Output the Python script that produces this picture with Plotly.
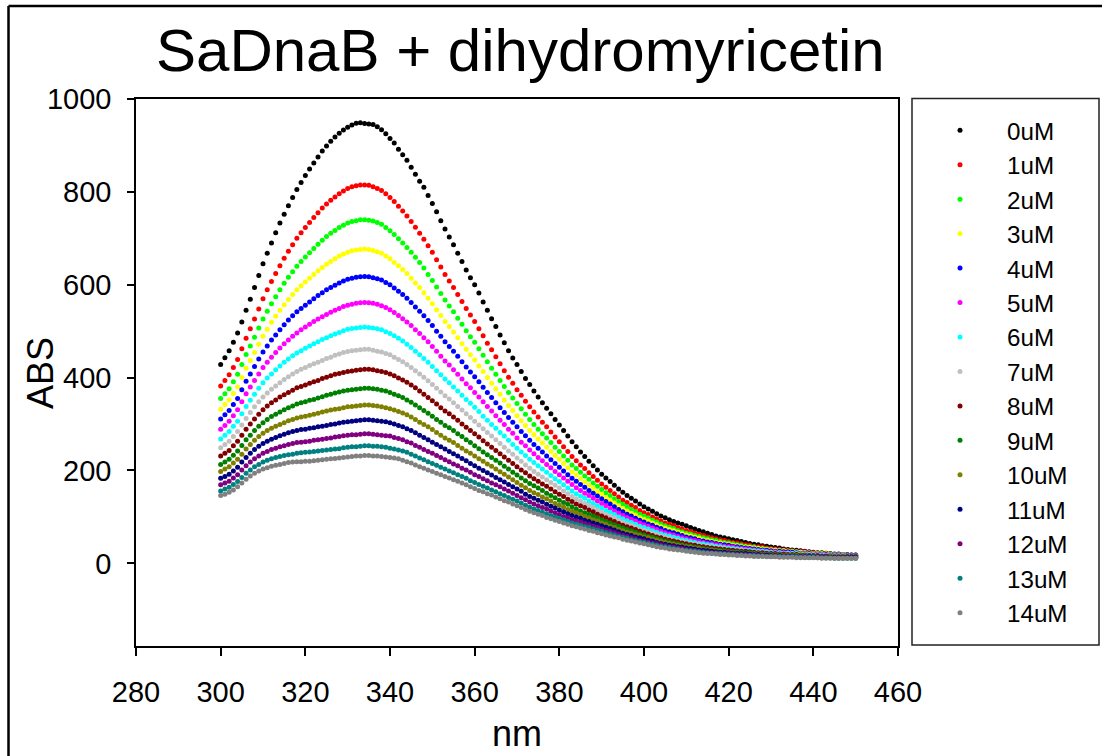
import plotly.graph_objects as go

wavelength_nm = list(range(300, 451))
conc_labels = ["0uM", "1uM", "2uM", "3uM", "4uM", "5uM", "6uM", "7uM",
               "8uM", "9uM", "10uM", "11uM", "12uM", "13uM", "14uM"]
colors = ["#000000", "#FF0000", "#00FF00", "#FFFF00", "#0000FF", "#FF00FF",
          "#00FFFF", "#C0C0C0", "#800000", "#008000", "#808000", "#000080",
          "#800080", "#008080", "#808080"]

abs_0uM = [428, 443, 458, 476, 496, 520, 545, 569, 594, 620,
           645, 668, 690, 712, 733, 752, 770, 788, 805, 820,
           835, 849, 862, 875, 888, 899, 909, 918, 926, 933,
           939, 944, 948, 949, 947, 946, 945, 940, 934, 925,
           915, 905, 892, 880, 868, 853, 838, 823, 810, 792,
           775, 757, 738, 720, 703, 686, 668, 650, 632, 615,
           600, 582, 563, 545, 527, 510, 492, 475, 458, 442,
           428, 413, 398, 385, 371, 358, 346, 334, 322, 310,
           298, 286, 274, 262, 251, 240, 230, 220, 210, 201,
           192, 184, 176, 168, 160, 153, 146, 140, 134, 128,
           122, 117, 112, 107, 102, 98, 94, 90, 87, 84,
           81, 77, 74, 71, 68, 65, 62, 59, 57, 55,
           53, 51, 49, 47, 45, 43, 41, 40, 38, 37,
           35, 34, 33, 31, 30, 29, 28, 27, 26, 25,
           24, 23, 23, 22, 21, 20, 20, 19, 19, 18,
           18]
abs_1uM = [382, 394, 406, 422, 439, 462, 485, 505, 526, 548,
           570, 589, 607, 624, 641, 657, 672, 686, 700, 712,
           723, 734, 745, 755, 765, 774, 782, 789, 796, 802,
           807, 811, 813, 815, 815, 814, 811, 807, 803, 796,
           788, 779, 769, 759, 748, 736, 724, 711, 698, 684,
           670, 654, 638, 622, 608, 594, 579, 564, 549, 535,
           521, 505, 490, 474, 460, 445, 430, 415, 401, 388,
           374, 362, 349, 337, 326, 315, 304, 294, 283, 272,
           262, 251, 241, 230, 221, 212, 204, 195, 187, 179,
           171, 164, 157, 150, 143, 136, 131, 125, 120, 114,
           109, 105, 100, 96, 91, 87, 84, 81, 77, 74,
           71, 68, 65, 62, 60, 57, 55, 53, 51, 49,
           47, 45, 44, 42, 40, 39, 37, 36, 35, 33,
           32, 31, 30, 29, 28, 27, 26, 25, 25, 24,
           23, 22, 21, 21, 20, 19, 19, 18, 18, 18,
           18]
abs_2uM = [355, 365, 376, 391, 407, 428, 450, 468, 487, 507,
           526, 543, 559, 574, 589, 603, 616, 628, 640, 650,
           660, 669, 678, 687, 696, 704, 711, 717, 723, 728,
           733, 736, 738, 740, 740, 739, 737, 734, 730, 723,
           716, 708, 699, 690, 680, 670, 659, 648, 636, 622,
           609, 595, 581, 567, 554, 542, 528, 515, 501, 488,
           476, 462, 448, 434, 420, 407, 394, 381, 368, 356,
           344, 333, 321, 310, 299, 289, 279, 270, 260, 250,
           241, 231, 222, 212, 204, 196, 188, 181, 173, 166,
           159, 152, 146, 139, 133, 127, 122, 116, 111, 106,
           102, 98, 93, 89, 85, 81, 78, 75, 71, 68,
           65, 63, 60, 58, 55, 53, 51, 49, 47, 45,
           44, 42, 40, 39, 37, 36, 35, 33, 32, 31,
           30, 29, 28, 27, 26, 26, 25, 24, 23, 23,
           22, 21, 21, 20, 20, 19, 19, 18, 18, 17,
           17]
abs_3uM = [332, 342, 352, 366, 380, 400, 420, 437, 454, 472,
           489, 504, 519, 532, 545, 557, 568, 579, 589, 598,
           606, 614, 622, 630, 637, 644, 650, 656, 662, 666,
           670, 673, 675, 676, 677, 676, 674, 671, 668, 662,
           656, 648, 641, 633, 624, 614, 604, 594, 583, 571,
           559, 546, 534, 521, 510, 498, 486, 473, 461, 449,
           438, 425, 413, 400, 388, 376, 364, 352, 340, 329,
           318, 307, 297, 286, 277, 268, 259, 250, 241, 232,
           224, 215, 206, 197, 190, 182, 175, 168, 161, 154,
           148, 142, 136, 130, 124, 118, 113, 108, 104, 99,
           95, 91, 87, 83, 79, 76, 73, 70, 67, 64,
           61, 59, 56, 54, 51, 49, 47, 45, 44, 42,
           41, 39, 38, 36, 35, 34, 33, 32, 31, 30,
           29, 28, 27, 27, 26, 25, 24, 24, 23, 22,
           21, 21, 20, 20, 19, 18, 18, 18, 17, 17,
           17]
abs_4uM = [311, 320, 329, 342, 355, 374, 392, 408, 424, 440,
           455, 468, 481, 492, 503, 514, 524, 533, 542, 549,
           556, 563, 570, 577, 583, 589, 594, 599, 604, 608,
           612, 614, 616, 617, 618, 617, 615, 613, 610, 605,
           600, 593, 586, 579, 571, 562, 552, 543, 533, 523,
           512, 500, 489, 477, 467, 457, 446, 434, 423, 412,
           402, 391, 379, 368, 357, 346, 335, 325, 314, 304,
           294, 284, 275, 265, 256, 248, 240, 231, 223, 215,
           207, 199, 191, 183, 177, 170, 164, 157, 151, 145,
           139, 133, 128, 122, 116, 111, 106, 102, 97, 93,
           89, 85, 82, 78, 75, 71, 68, 66, 63, 60,
           57, 55, 53, 50, 48, 46, 45, 43, 41, 40,
           39, 37, 36, 34, 33, 32, 31, 30, 29, 28,
           27, 26, 26, 25, 25, 24, 23, 22, 22, 21,
           20, 20, 19, 19, 18, 18, 18, 17, 17, 17,
           17]
abs_5uM = [289, 297, 306, 318, 331, 348, 365, 380, 394, 408,
           422, 433, 444, 454, 464, 473, 481, 489, 496, 503,
           509, 515, 521, 526, 531, 536, 541, 545, 549, 553,
           556, 558, 560, 561, 562, 561, 560, 558, 555, 551,
           546, 540, 534, 527, 520, 512, 503, 495, 486, 477,
           467, 457, 446, 436, 427, 417, 407, 397, 387, 378,
           368, 358, 348, 338, 328, 318, 308, 299, 289, 280,
           270, 261, 253, 244, 236, 228, 221, 213, 206, 198,
           191, 184, 177, 170, 163, 157, 151, 146, 140, 134,
           129, 124, 118, 113, 108, 103, 99, 95, 91, 87,
           83, 80, 76, 73, 69, 66, 63, 61, 58, 55,
           53, 51, 49, 47, 45, 43, 42, 40, 39, 37,
           36, 35, 33, 32, 31, 30, 29, 28, 27, 26,
           25, 25, 24, 23, 23, 22, 22, 21, 21, 20,
           20, 19, 19, 18, 18, 17, 17, 17, 16, 16,
           16]
abs_6uM = [268, 276, 284, 295, 306, 322, 338, 351, 364, 377,
           389, 399, 408, 417, 425, 433, 440, 447, 453, 458,
           463, 468, 473, 477, 482, 486, 490, 494, 497, 501,
           504, 506, 507, 508, 509, 508, 507, 505, 503, 499,
           495, 490, 485, 479, 472, 465, 457, 449, 441, 433,
           424, 415, 406, 397, 389, 380, 371, 362, 353, 345,
           336, 327, 317, 308, 299, 291, 282, 274, 265, 256,
           248, 240, 232, 224, 217, 210, 203, 196, 189, 182,
           176, 169, 162, 156, 150, 145, 140, 134, 129, 124,
           119, 114, 110, 105, 100, 96, 92, 88, 84, 80,
           77, 74, 70, 67, 64, 61, 59, 56, 54, 51,
           49, 47, 45, 43, 42, 40, 39, 37, 36, 34,
           33, 32, 31, 30, 29, 28, 27, 26, 26, 25,
           24, 23, 23, 22, 22, 21, 21, 20, 20, 19,
           19, 18, 18, 17, 17, 16, 16, 16, 16, 16,
           16]
abs_7uM = [249, 256, 263, 273, 284, 298, 312, 325, 337, 348,
           358, 367, 375, 382, 389, 396, 402, 408, 413, 418,
           422, 426, 430, 433, 437, 441, 444, 448, 451, 454,
           456, 458, 459, 460, 461, 461, 459, 457, 455, 452,
           449, 444, 439, 434, 428, 422, 415, 408, 401, 393,
           385, 377, 369, 361, 354, 346, 338, 330, 322, 314,
           306, 298, 290, 282, 274, 266, 258, 250, 242, 235,
           227, 220, 212, 205, 198, 192, 186, 180, 174, 168,
           162, 156, 150, 144, 139, 134, 129, 125, 120, 115,
           110, 106, 102, 98, 93, 89, 85, 82, 78, 74,
           71, 68, 65, 62, 59, 56, 54, 51, 49, 47,
           45, 43, 41, 40, 38, 37, 36, 34, 33, 32,
           31, 30, 29, 28, 27, 26, 25, 24, 23, 23,
           22, 22, 21, 21, 20, 20, 19, 19, 19, 18,
           18, 18, 17, 17, 16, 16, 16, 16, 15, 15,
           15]
abs_8uM = [231, 237, 243, 253, 263, 276, 289, 300, 311, 321,
           331, 339, 346, 352, 358, 363, 368, 373, 378, 381,
           384, 388, 391, 394, 398, 401, 404, 407, 409, 411,
           413, 414, 416, 417, 418, 418, 417, 415, 413, 411,
           408, 404, 399, 395, 390, 384, 378, 371, 364, 357,
           350, 343, 335, 328, 322, 315, 308, 300, 293, 286,
           279, 272, 264, 257, 250, 243, 236, 229, 222, 215,
           208, 201, 195, 188, 182, 177, 171, 166, 160, 154,
           149, 144, 138, 133, 128, 124, 120, 115, 111, 106,
           102, 98, 94, 90, 86, 82, 79, 76, 73, 69,
           66, 63, 60, 57, 55, 52, 50, 48, 46, 44,
           42, 40, 39, 37, 36, 34, 33, 32, 31, 30,
           29, 28, 27, 26, 26, 25, 24, 23, 23, 22,
           21, 21, 20, 20, 19, 19, 19, 18, 18, 17,
           17, 17, 16, 16, 16, 15, 15, 15, 15, 15,
           15]
abs_9uM = [213, 218, 224, 233, 242, 254, 266, 276, 286, 295,
           303, 310, 316, 321, 326, 331, 335, 339, 343, 346,
           348, 351, 353, 356, 359, 362, 364, 367, 369, 371,
           373, 374, 375, 376, 377, 377, 376, 375, 373, 371,
           368, 364, 361, 357, 352, 347, 341, 335, 329, 323,
           317, 310, 304, 297, 292, 286, 279, 273, 266, 260,
           253, 247, 240, 234, 228, 222, 216, 209, 203, 196,
           190, 184, 178, 172, 167, 162, 157, 151, 146, 141,
           136, 131, 127, 122, 117, 113, 109, 106, 102, 98,
           94, 90, 87, 83, 80, 76, 73, 70, 67, 64,
           61, 58, 56, 53, 51, 48, 46, 44, 42, 40,
           38, 37, 35, 34, 32, 31, 30, 29, 28, 27,
           26, 25, 25, 24, 23, 23, 22, 21, 20, 20,
           19, 19, 19, 18, 18, 18, 17, 17, 17, 16,
           16, 16, 15, 15, 15, 14, 14, 14, 14, 14,
           14]
abs_10uM = [198, 203, 208, 216, 224, 235, 246, 256, 265, 273,
            280, 286, 291, 295, 299, 303, 307, 310, 313, 315,
            317, 319, 321, 323, 326, 328, 330, 332, 333, 335,
            337, 338, 339, 340, 341, 341, 340, 339, 337, 335,
            333, 330, 327, 324, 320, 315, 310, 304, 299, 294,
            288, 282, 276, 270, 265, 260, 254, 248, 242, 237,
            231, 225, 220, 214, 209, 203, 197, 192, 186, 180,
            174, 168, 163, 157, 152, 148, 143, 139, 134, 129,
            125, 121, 116, 112, 109, 105, 101, 98, 94, 91,
            87, 84, 80, 77, 73, 70, 67, 65, 62, 60,
            57, 55, 52, 50, 47, 45, 43, 41, 39, 38,
            36, 35, 33, 32, 30, 29, 28, 27, 26, 25,
            24, 23, 23, 22, 22, 21, 20, 20, 19, 19,
            18, 18, 18, 17, 17, 17, 16, 16, 16, 15,
            15, 15, 15, 14, 14, 14, 14, 14, 13, 13,
            13]
abs_11uM = [183, 187, 192, 199, 207, 218, 228, 237, 245, 252,
            258, 263, 267, 271, 275, 278, 281, 284, 286, 288,
            289, 291, 292, 294, 295, 297, 299, 300, 302, 304,
            305, 306, 307, 308, 309, 309, 308, 307, 306, 305,
            303, 300, 297, 294, 290, 286, 281, 276, 271, 266,
            261, 256, 251, 246, 241, 236, 231, 226, 221, 215,
            210, 205, 200, 195, 190, 185, 180, 175, 170, 165,
            160, 155, 149, 144, 140, 136, 132, 127, 123, 119,
            115, 111, 107, 103, 100, 97, 93, 90, 87, 84,
            81, 78, 75, 72, 68, 65, 62, 60, 57, 55,
            53, 50, 48, 45, 43, 41, 39, 38, 36, 35,
            33, 32, 31, 29, 28, 27, 26, 25, 24, 24,
            23, 22, 22, 21, 21, 20, 19, 19, 18, 18,
            17, 17, 17, 16, 16, 16, 15, 15, 15, 15,
            14, 14, 14, 14, 13, 13, 13, 13, 13, 13,
            13]
abs_12uM = [169, 173, 177, 184, 191, 201, 210, 218, 225, 231,
            237, 241, 245, 248, 251, 253, 256, 258, 260, 261,
            262, 263, 265, 266, 267, 269, 270, 272, 273, 275,
            276, 277, 277, 278, 279, 279, 278, 277, 276, 275,
            274, 271, 269, 266, 262, 259, 254, 250, 245, 241,
            237, 232, 228, 223, 219, 214, 210, 205, 201, 196,
            191, 187, 182, 178, 173, 169, 165, 160, 156, 151,
            146, 141, 137, 132, 128, 124, 120, 117, 113, 109,
            105, 101, 98, 94, 92, 89, 86, 83, 80, 77,
            74, 71, 69, 66, 63, 60, 58, 55, 53, 50,
            48, 46, 44, 42, 40, 38, 36, 35, 33, 32,
            30, 29, 28, 26, 25, 24, 23, 23, 22, 21,
            21, 20, 20, 19, 19, 18, 18, 17, 17, 16,
            16, 16, 16, 15, 15, 15, 14, 14, 14, 13,
            13, 13, 13, 13, 12, 12, 12, 12, 12, 12,
            12]
abs_13uM = [156, 160, 164, 170, 176, 185, 194, 201, 208, 213,
            218, 222, 225, 228, 230, 232, 234, 235, 237, 238,
            239, 240, 241, 242, 243, 244, 245, 246, 247, 249,
            250, 251, 251, 252, 253, 253, 252, 252, 251, 250,
            248, 246, 244, 242, 239, 235, 231, 227, 223, 219,
            215, 211, 207, 203, 199, 195, 191, 187, 183, 178,
            174, 170, 166, 162, 158, 154, 150, 146, 142, 138,
            134, 130, 125, 121, 117, 114, 110, 107, 103, 100,
            97, 94, 90, 87, 85, 82, 79, 77, 74, 72,
            69, 66, 64, 61, 58, 56, 54, 51, 49, 47,
            45, 43, 41, 39, 37, 35, 34, 32, 31, 29,
            28, 27, 26, 25, 24, 23, 22, 21, 21, 20,
            19, 19, 18, 18, 17, 17, 17, 16, 16, 15,
            15, 15, 15, 14, 14, 14, 14, 13, 13, 13,
            13, 12, 12, 12, 12, 11, 11, 11, 11, 11,
            11]
abs_14uM = [146, 149, 153, 158, 165, 173, 181, 188, 194, 199,
            203, 206, 209, 211, 213, 215, 217, 218, 219, 219,
            220, 220, 221, 222, 223, 224, 225, 226, 227, 228,
            229, 230, 231, 231, 232, 232, 231, 231, 230, 229,
            228, 227, 225, 222, 219, 216, 212, 208, 205, 201,
            198, 194, 191, 187, 184, 180, 177, 173, 169, 165,
            161, 157, 154, 150, 147, 143, 139, 135, 132, 128,
            124, 120, 116, 112, 109, 106, 103, 99, 96, 93,
            90, 87, 84, 81, 79, 76, 74, 71, 69, 66,
            64, 61, 59, 57, 55, 52, 50, 48, 46, 44,
            42, 40, 38, 36, 34, 33, 31, 30, 29, 28,
            26, 25, 24, 23, 22, 21, 21, 20, 19, 19,
            18, 18, 17, 17, 16, 16, 15, 15, 15, 14,
            14, 14, 13, 13, 13, 13, 12, 12, 12, 12,
            12, 12, 11, 11, 11, 11, 11, 11, 11, 11,
            11]

x_ticks = [280, 300, 320, 340, 360, 380, 400, 420, 440, 460]
y_ticks = [0, 200, 400, 600, 800, 1000]

series = [abs_0uM, abs_1uM, abs_2uM, abs_3uM, abs_4uM, abs_5uM, abs_6uM,
          abs_7uM, abs_8uM, abs_9uM, abs_10uM, abs_11uM, abs_12uM,
          abs_13uM, abs_14uM]

FONT = "Liberation Sans, Arial, sans-serif"

fig = go.Figure()
for label, color, ys in zip(conc_labels, colors, series):
    n = min(len(ys), len(wavelength_nm))
    fig.add_trace(go.Scatter(
        x=wavelength_nm[:n], y=ys[:n], mode="markers", name=label,
        marker=dict(color=color, size=5, symbol="circle", line=dict(width=0)),
    ))

W, H = 1102, 756
L, R, T, B = 136, 204, 99, 110
pw, ph = W - L - R, H - T - B

def px_x(x):
    return (x - L) / pw

def px_y(y):
    return (H - B - y) / ph

fig.update_layout(
    width=W, height=H,
    margin=dict(l=L, r=R, t=T, b=B, pad=0),
    paper_bgcolor="white", plot_bgcolor="white",
    font=dict(family=FONT, color="black"),
    showlegend=True,
    legend=dict(
        x=px_x(913), y=px_y(108), xanchor="left", yanchor="top",
        bgcolor="rgba(0,0,0,0)", borderwidth=0,
        font=dict(family=FONT, size=24.2, color="black"),
        itemwidth=84, tracegroupgap=0,
    ),
    xaxis=dict(
        range=[280, 460], tickmode="array", tickvals=x_ticks,
        ticktext=[str(v) for v in x_ticks],
        showgrid=False, zeroline=False, showline=True, mirror=True,
        linecolor="black", linewidth=1.5,
        ticks="outside", ticklen=8, tickwidth=1.5, tickcolor="black",
        tickfont=dict(family=FONT, size=29, color="black"),
        ticklabelstandoff=11,
    ),
    yaxis=dict(
        range=[-178, 1000], tickmode="array", tickvals=y_ticks,
        ticktext=[str(v) for v in y_ticks],
        showgrid=False, zeroline=False, showline=True, mirror=True,
        linecolor="black", linewidth=1.5,
        ticks="outside", ticklen=7, tickwidth=1.5, tickcolor="black",
        tickfont=dict(family=FONT, size=29, color="black"),
        ticklabelstandoff=10,
    ),
    shapes=[
        # legend frame
        dict(type="rect", xref="paper", yref="paper",
             x0=px_x(912), x1=px_x(1099), y0=px_y(645), y1=px_y(98.5),
             line=dict(color="#222222", width=1.5), fillcolor="rgba(0,0,0,0)"),
        # outer page frame (left and top edges visible)
        dict(type="line", xref="paper", yref="paper",
             x0=px_x(8.5), x1=px_x(8.5), y0=px_y(6), y1=px_y(800),
             line=dict(color="black", width=2.5)),
        dict(type="line", xref="paper", yref="paper",
             x0=px_x(8.5), x1=px_x(1150), y0=px_y(6), y1=px_y(6),
             line=dict(color="black", width=2.5)),
    ],
    annotations=[
        dict(text="SaDnaB + dihydromyricetin", xref="paper", yref="paper",
             x=px_x(520), y=px_y(50), xanchor="center", yanchor="middle",
             showarrow=False, font=dict(family=FONT, size=60, color="black")),
        dict(text="nm", xref="paper", yref="paper",
             x=px_x(517), y=px_y(733), xanchor="center", yanchor="middle",
             showarrow=False, font=dict(family=FONT, size=36, color="black")),
        dict(text="ABS", xref="paper", yref="paper",
             x=px_x(40), y=px_y(373), xanchor="center", yanchor="middle",
             textangle=-90, showarrow=False,
             font=dict(family=FONT, size=36, color="black")),
    ],
)

fig.write_html(
    "out.html",
    config={"displayModeBar": False},
    post_script="document.body.style.margin='0';document.body.style.overflow='hidden';",
)
